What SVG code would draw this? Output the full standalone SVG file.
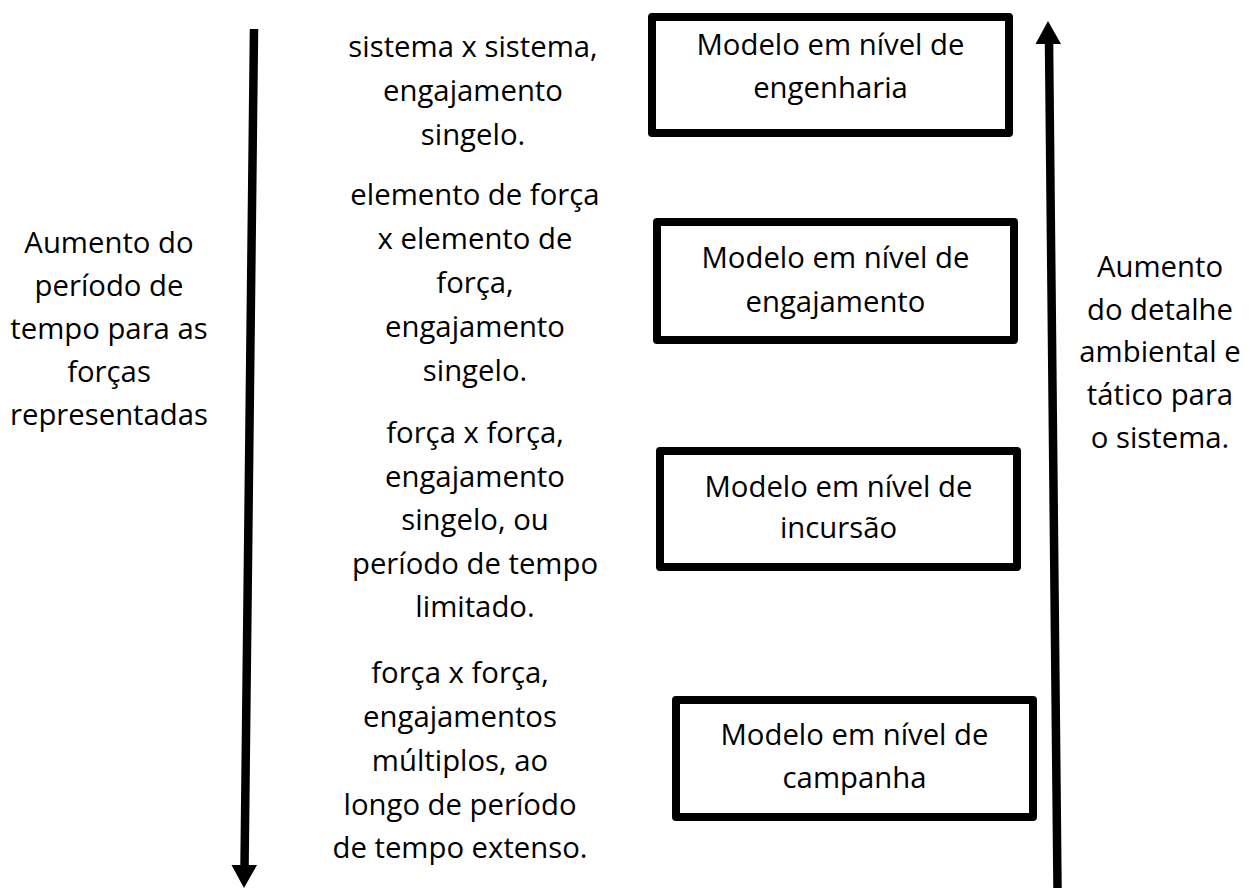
<svg xmlns="http://www.w3.org/2000/svg" width="1258" height="889" viewBox="0 0 1258 889">
<style>
text{font-family:"Open Sans","Noto Sans","Liberation Sans",sans-serif;font-size:29.3px;fill:#000;text-anchor:middle}
.box{fill:#fff;stroke:#000;stroke-width:8;stroke-linejoin:round}
.shaft{stroke:#000;stroke-width:8.5;fill:none}
.head{fill:#000}
</style>
<rect width="1258" height="889" fill="#fff"/>
<g id="connectors">
<g id="arrow-down">
<line class="shaft" x1="254" y1="29" x2="244.5" y2="868"/>
<polygon class="head" points="231.5,865 257,865 244,888"/>
</g>
<g id="arrow-up">
<line class="shaft" x1="1057.5" y1="888" x2="1049" y2="40"/>
<polygon class="head" points="1035.5,44 1061,44 1048,21"/>
</g>
</g>
<g id="label-left">
<text x="109" y="253">Aumento do</text>
<text x="109" y="296">período de</text>
<text x="109" y="339">tempo para as</text>
<text x="109" y="382">forças</text>
<text x="109" y="425">representadas</text>
</g>
<g id="label-right">
<text x="1160" y="277">Aumento</text>
<text x="1160" y="320">do detalhe</text>
<text x="1160" y="362">ambiental e</text>
<text x="1160" y="405">tático para</text>
<text x="1160" y="448">o sistema.</text>
</g>
<g id="desc-1">
<text x="473" y="57">sistema x sistema,</text>
<text x="473" y="101">engajamento</text>
<text x="473" y="145">singelo.</text>
</g>
<g id="desc-2">
<text x="475" y="205">elemento de força</text>
<text x="475" y="249">x elemento de</text>
<text x="475" y="293">força,</text>
<text x="475" y="337">engajamento</text>
<text x="475" y="381">singelo.</text>
</g>
<g id="desc-3">
<text x="475" y="443">força x força,</text>
<text x="475" y="487">engajamento</text>
<text x="475" y="530">singelo, ou</text>
<text x="475" y="574">período de tempo</text>
<text x="475" y="617">limitado.</text>
</g>
<g id="desc-4">
<text x="460" y="683">força x força,</text>
<text x="460" y="727">engajamentos</text>
<text x="460" y="771">múltiplos, ao</text>
<text x="460" y="815">longo de período</text>
<text x="460" y="858">de tempo extenso.</text>
</g>
<g id="box-engenharia">
<rect class="box" x="652" y="17" width="357" height="116"/>
<text x="830.5" y="55">Modelo em nível de</text>
<text x="830.5" y="98">engenharia</text>
</g>
<g id="box-engajamento">
<rect class="box" x="657" y="222" width="357" height="118"/>
<text x="835.5" y="268">Modelo em nível de</text>
<text x="835.5" y="312">engajamento</text>
</g>
<g id="box-incursao">
<rect class="box" x="660" y="451" width="357" height="116"/>
<text x="838.5" y="497">Modelo em nível de</text>
<text x="838.5" y="538">incursão</text>
</g>
<g id="box-campanha">
<rect class="box" x="676" y="700" width="357" height="117"/>
<text x="854.5" y="745">Modelo em nível de</text>
<text x="854.5" y="788">campanha</text>
</g>
</svg>
